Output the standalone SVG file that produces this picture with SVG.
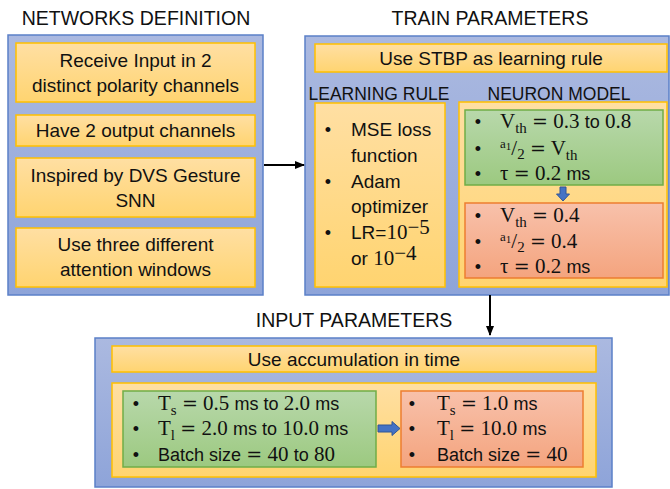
<svg xmlns="http://www.w3.org/2000/svg" width="670" height="489" viewBox="0 0 670 489">
<defs>
  <linearGradient id="gBlue" x1="0" y1="0" x2="0" y2="1">
    <stop offset="0" stop-color="#abb9e0"/>
    <stop offset="1" stop-color="#8ea4d9"/>
  </linearGradient>
  <linearGradient id="gOr" x1="0" y1="0" x2="0" y2="1">
    <stop offset="0" stop-color="#ffdfa3"/>
    <stop offset="1" stop-color="#ffd470"/>
  </linearGradient>
  <linearGradient id="gGr" x1="0" y1="0" x2="0" y2="1">
    <stop offset="0" stop-color="#b8d8ab"/>
    <stop offset="1" stop-color="#9cc980"/>
  </linearGradient>
  <linearGradient id="gRd" x1="0" y1="0" x2="0" y2="1">
    <stop offset="0" stop-color="#f8c1ab"/>
    <stop offset="1" stop-color="#f4a47e"/>
  </linearGradient>
  <marker id="ah" markerWidth="10" markerHeight="8" refX="9" refY="4" orient="auto" markerUnits="userSpaceOnUse">
    <path d="M0,0 L10,4 L0,8 Z" fill="#000"/>
  </marker>
</defs>
<style>
  .panel{fill:url(#gBlue);stroke:#5b80c8;stroke-width:1.5}
  .or{fill:url(#gOr);stroke:#ffc000;stroke-width:1.5}
  .gr{fill:url(#gGr);stroke:#70ad47;stroke-width:1.5}
  .rd{fill:url(#gRd);stroke:#ed7d31;stroke-width:1.5}
  .title{font-family:"Liberation Sans",Arial,sans-serif;font-size:19.5px;fill:#111;text-anchor:middle}
  .hdr{font-family:"Liberation Sans",Arial,sans-serif;font-size:17.5px;fill:#111;text-anchor:middle}
  .b{font-family:"Liberation Sans",Arial,sans-serif;font-size:19px;fill:#111}
  .c{text-anchor:middle}
  .m{font-family:"Liberation Serif","Times New Roman",serif;font-size:21px;fill:#111}
  .s{font-family:"Liberation Sans",Arial,sans-serif;font-size:18px}
  .eq{font-family:"DejaVu Serif",serif;font-size:19px}
  .blt{font-family:"Liberation Sans",Arial,sans-serif;font-size:18px;fill:#111;text-anchor:middle}
  .conn{stroke:#000;stroke-width:2;fill:none}
  .barrow{fill:#4472c4;stroke:#2f5597;stroke-width:1}
</style>

<g id="networks-definition">
  <text class="title" x="136" y="25">NETWORKS DEFINITION</text>
  <rect class="panel" x="8" y="35" width="255" height="260"/>
  <rect class="or" x="16" y="43" width="239" height="59"/>
  <text class="b c" x="135.5" y="67">Receive Input in 2</text>
  <text class="b c" x="135.5" y="92">distinct polarity channels</text>
  <rect class="or" x="16" y="115" width="239" height="31"/>
  <text class="b c" x="135.5" y="137">Have 2 output channels</text>
  <rect class="or" x="16" y="158" width="239" height="59"/>
  <text class="b c" x="135.5" y="182">Inspired by DVS Gesture</text>
  <text class="b c" x="135.5" y="207">SNN</text>
  <rect class="or" x="16" y="228" width="239" height="59"/>
  <text class="b c" x="135.5" y="251">Use three different</text>
  <text class="b c" x="135.5" y="276">attention windows</text>
</g>

<g id="train-parameters">
  <text class="title" x="490" y="25">TRAIN PARAMETERS</text>
  <rect class="panel" x="305" y="36" width="364" height="259"/>
  <rect class="or" x="315" y="44" width="352" height="28"/>
  <text class="b c" x="491" y="65">Use STBP as learning rule</text>
  <text class="hdr" x="379" y="100">LEARNING RULE</text>
  <text class="hdr" x="559" y="100">NEURON MODEL</text>
</g>

<g id="learning-rule">
  <rect class="or" x="315" y="103" width="130" height="184"/>
  <text class="blt" x="328" y="136">•</text>
  <text class="b" x="351" y="136">MSE loss</text>
  <text class="b" x="351" y="162">function</text>
  <text class="blt" x="328" y="188">•</text>
  <text class="b" x="351" y="188">Adam</text>
  <text class="b" x="351" y="213">optimizer</text>
  <text class="blt" x="328" y="239">•</text>
  <text class="b" x="351" y="239">LR=<tspan class="m" font-size="20">10</tspan><tspan class="m" font-size="12" dy="-5.5">−5</tspan></text>
  <text class="b" x="351" y="265">or <tspan class="m" font-size="20">10</tspan><tspan class="m" font-size="12" dy="-5.5">−4</tspan></text>
</g>

<g id="neuron-model">
  <rect class="or" x="459" y="102" width="208" height="185"/>
  <rect class="gr" x="465" y="110" width="198" height="75"/>
  <text class="blt" x="478" y="128">•</text>
  <text class="m" x="500" y="128">V<tspan font-size="15" dy="5">th</tspan><tspan dy="-5"> </tspan><tspan class="eq">=</tspan> 0.3 <tspan class="s">to</tspan> 0.8</text>
  <text class="blt" x="478" y="155">•</text>
  <text class="m" x="500" y="155"><tspan font-size="13" dy="-7">a</tspan><tspan font-size="11" dy="2">1</tspan><tspan dy="5">/</tspan><tspan font-size="15" dy="4">2</tspan><tspan dy="-4"> </tspan><tspan class="eq">=</tspan> V<tspan font-size="15" dy="5">th</tspan></text>
  <text class="blt" x="478" y="180">•</text>
  <text class="m" x="500" y="180">τ <tspan class="eq">=</tspan> 0.2 <tspan class="s">ms</tspan></text>

  <path class="barrow" d="M560,187 L566,187 L566,194 L569.5,194 L563,201 L556.5,194 L560,194 Z"/>

  <rect class="rd" x="465" y="203" width="198" height="75"/>
  <text class="blt" x="478" y="222">•</text>
  <text class="m" x="500" y="222">V<tspan font-size="15" dy="5">th</tspan><tspan dy="-5"> </tspan><tspan class="eq">=</tspan> 0.4</text>
  <text class="blt" x="478" y="248">•</text>
  <text class="m" x="500" y="248"><tspan font-size="13" dy="-7">a</tspan><tspan font-size="11" dy="2">1</tspan><tspan dy="5">/</tspan><tspan font-size="15" dy="4">2</tspan><tspan dy="-4"> </tspan><tspan class="eq">=</tspan> 0.4</text>
  <text class="blt" x="478" y="273">•</text>
  <text class="m" x="500" y="273">τ <tspan class="eq">=</tspan> 0.2 <tspan class="s">ms</tspan></text>
</g>

<g id="input-parameters">
  <text class="title" x="354" y="327">INPUT PARAMETERS</text>
  <rect class="panel" x="95" y="338" width="517" height="149"/>
  <rect class="or" x="112" y="346" width="484" height="26"/>
  <text class="b c" x="354" y="366">Use accumulation in time</text>
  <rect class="or" x="112" y="383" width="484" height="94"/>

  <rect class="gr" x="123" y="391" width="253" height="76"/>
  <text class="blt" x="136" y="410">•</text>
  <text class="m" x="158" y="410">T<tspan font-size="15" dy="5">s</tspan><tspan dy="-5"> </tspan><tspan class="eq">=</tspan> 0.5 <tspan class="s">ms to</tspan> 2.0 <tspan class="s">ms</tspan></text>
  <text class="blt" x="136" y="435">•</text>
  <text class="m" x="158" y="435">T<tspan font-size="15" dy="5">l</tspan><tspan dy="-5"> </tspan><tspan class="eq">=</tspan> 2.0 <tspan class="s">ms to</tspan> 10.0 <tspan class="s">ms</tspan></text>
  <text class="blt" x="136" y="461">•</text>
  <text class="m" x="158" y="461"><tspan class="s">Batch size</tspan> <tspan class="eq">=</tspan> 40 <tspan class="s">to</tspan> 80</text>

  <path class="barrow" d="M378,425 L392,425 L392,421.5 L400,428.5 L392,435.5 L392,432 L378,432 Z"/>

  <rect class="rd" x="401" y="391" width="182" height="76"/>
  <text class="blt" x="412" y="410">•</text>
  <text class="m" x="437" y="410">T<tspan font-size="15" dy="5">s</tspan><tspan dy="-5"> </tspan><tspan class="eq">=</tspan> 1.0 <tspan class="s">ms</tspan></text>
  <text class="blt" x="412" y="435">•</text>
  <text class="m" x="437" y="435">T<tspan font-size="15" dy="5">l</tspan><tspan dy="-5"> </tspan><tspan class="eq">=</tspan> 10.0 <tspan class="s">ms</tspan></text>
  <text class="blt" x="412" y="461">•</text>
  <text class="m" x="437" y="461"><tspan class="s">Batch size</tspan> <tspan class="eq">=</tspan> 40</text>
</g>

<g id="connectors">
  <line class="conn" x1="264" y1="165" x2="304" y2="165" marker-end="url(#ah)"/>
  <line class="conn" x1="490" y1="295" x2="490" y2="335" marker-end="url(#ah)"/>
</g>
</svg>
